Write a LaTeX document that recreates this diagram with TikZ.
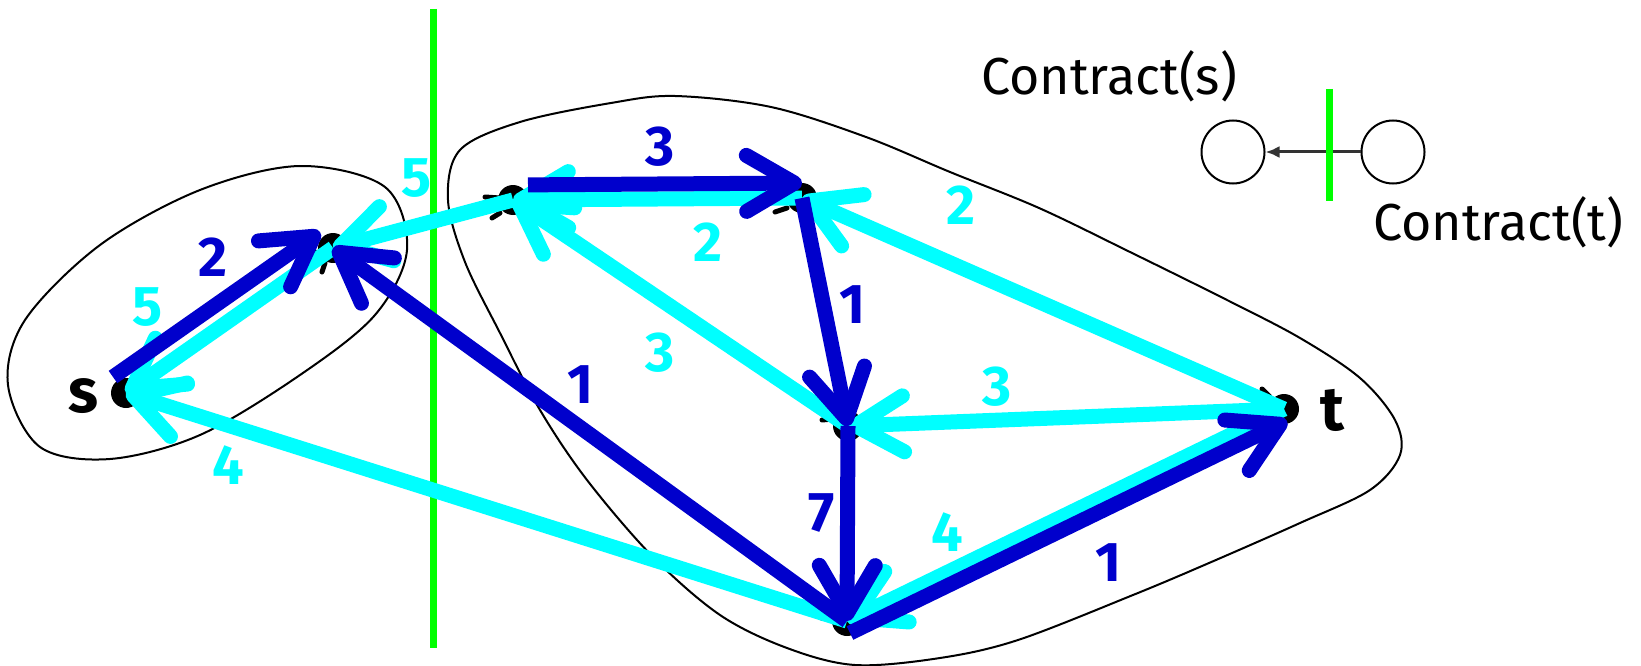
\documentclass[tikz,border=0pt]{standalone}
\usepackage{fontspec}
\setmainfont{Fira Sans}
\usetikzlibrary{arrows.meta,calc}
\definecolor{eblue}{RGB}{0,0,204}
\definecolor{ecyan}{RGB}{0,255,255}
\definecolor{cutgreen}{RGB}{0,255,0}
\newcommand\labfont{\fontsize{56}{64}\selectfont\bfseries}
\newcommand\vtxfont{\fontsize{62}{70}\selectfont\bfseries}
\newcommand\ctrfont{\fontsize{52}{60}\selectfont}
\begin{document}
\begin{tikzpicture}[x=1pt,y=-1pt,
  dot/.style={circle,fill=black,minimum size=30pt,inner sep=0pt},
  whisker/.style={draw=black,line width=5pt,line cap=round},
  edge/.style={line width=15pt,line cap=butt,-{Straight Barb[length=48pt,width=56pt,round]}},
  bedge/.style={edge,draw=eblue},
  cedge/.style={edge,draw=ecyan},
  blab/.style={text=eblue,font=\labfont,inner sep=0pt},
  clab/.style={text=ecyan,font=\labfont,inner sep=0pt},
  vlab/.style={text=black,font=\vtxfont,inner sep=0pt},
  blob/.style={draw=black,line width=2pt},
  cut/.style={draw=cutgreen,line width=7pt},
  small/.style={circle,draw=black,line width=2pt,minimum size=63pt,inner sep=0pt}
]
\useasboundingbox (0,0) rectangle (1641,666);

% regions
\draw[blob] plot[smooth cycle,tension=0.55] coordinates {
 (8,385) (40,447) (110,459) (200,435) (300,375) (375,315) (407,250) (385,187)
 (300,166) (200,190) (100,245) (25,320)};
\draw[blob] plot[smooth cycle,tension=0.55] coordinates {
 (448,200) (465,262) (500,333) (540,410) (587,480) (653,557) (720,615)
 (787,648) (855,665) (940,658) (1018,640) (1133,595) (1209,563) (1300,523)
 (1370,490) (1400,455) (1395,420) (1360,378) (1300,338) (1227,300)
 (1130,252) (1039,208) (950,172) (866,137) (771,107) (675,96) (611,103)
 (520,122) (460,150)};

% cut line
\draw[cut] (433,9) -- (433,648);

% vertices
\node[dot] (s) at (126,393) {};
\node[dot] (a) at (333,248) {};
\node[dot] (b) at (513,200) {};
\node[dot] (c) at (802,198) {};
\node[dot] (d) at (848,426) {};
\node[dot] (e) at (847,621) {};
\node[dot] (t) at (1284,409) {};
\node[vlab] at (83,396) {s};
\node[vlab] at (1332,410) {t};

% small marks beside the vertices
\draw[whisker] (485,197) -- (500,198);
\draw[whisker] (492,218) -- (500,213);
\draw[whisker] (775,212) -- (787,208);
\draw[whisker] (822,420) -- (833,419);
\draw[whisker] (822,618) -- (833,618);
\draw[whisker] (313,253) -- (320,252);
\draw[whisker] (322,272) -- (325,263);
\draw[whisker] (1262,389) -- (1270,397);

% cyan edges
\draw[cedge] (a.center) -- (s.center);
\draw[cedge] (b.center) -- (a.center);
\draw[cedge] (c.center) -- (b.center);
\draw[cedge] (d.center) -- (b.center);
\draw[cedge] (t.center) -- (c.center);
\draw[cedge] (t.center) -- (d.center);
\draw[cedge] (t.center) -- (e.center);
\draw[cedge] (e.center) -- (s.center);

% blue edges
\draw[bedge,transform canvas={shift={(-13,-16)}}] (s.center) -- (a.center);
\draw[bedge,shorten <=15pt,transform canvas={shift={(0,-15)}}] (b.center) -- (c.center);
\draw[bedge] (c.center) -- (d.center);
\draw[bedge] (e.center) -- (a.center);
\draw[bedge] (d.center) -- (e.center);
\draw[bedge,transform canvas={shift={(3,12)}}] (e.center) -- (t.center);

% weights
\node[blab] at (213,257) {2};
\node[clab] at (148,307) {5};
\node[clab] at (417,178) {5};
\node[blab] at (660,147) {3};
\node[clab] at (708,242) {2};
\node[blab] at (852,305) {1};
\node[clab] at (660,353) {3};
\node[blab] at (580,385) {1};
\node[clab] at (961,205) {2};
\node[clab] at (997,387) {3};
\node[clab] at (947,532) {4};
\node[blab] at (1108,563) {1};
\node[blab] at (822,513) {7};
\node[clab] at (228,465) {4};

% contraction sketch
\node[font=\ctrfont,anchor=base west,inner sep=0pt] at (981,95) {Contract(s)};
\node[font=\ctrfont,anchor=base west,inner sep=0pt] at (1373,240) {Contract(t)};
\node[small] (cl) at (1233,152) {};
\node[small] (cr) at (1393,152) {};
\draw[black!80,line width=3pt,-{Latex[length=14pt,width=12pt]}] (cr) -- (cl);
\draw[cut] (1329,89) -- (1329,201);
\end{tikzpicture}
\end{document}
